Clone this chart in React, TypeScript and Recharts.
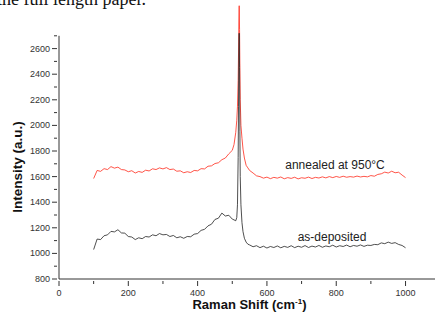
import { LineChart, Line, XAxis, YAxis, ReferenceLine } from "recharts";

const ramanShift = [
  100, 110, 120, 130, 140, 150, 160, 170, 180, 190, 200, 210, 220, 230, 240, 250, 260, 270, 280, 290,
  300, 310, 320, 330, 340, 350, 360, 370, 380, 390, 400, 410, 420, 430, 440, 450, 460, 470, 480, 490,
  500, 505, 510, 513, 515, 517, 518, 519, 520, 521, 522, 523, 525, 528, 531, 535, 540, 545, 550,
  560, 570, 580, 590, 600, 610, 620, 630, 640, 650, 660, 670, 680, 690, 700, 710, 720, 730, 740, 750,
  760, 770, 780, 790, 800, 810, 820, 830, 840, 850, 860, 870, 880, 890, 900, 910, 920, 930, 940, 950,
  960, 970, 980, 990, 1000,
];

const annealed = [
  1585, 1648, 1641, 1662, 1655, 1678, 1666, 1674, 1655, 1652, 1638, 1646, 1628, 1640, 1633, 1650, 1644, 1661, 1655, 1668,
  1660, 1670, 1655, 1659, 1642, 1645, 1630, 1638, 1632, 1648, 1645, 1662, 1660, 1681, 1684, 1702, 1708, 1732, 1745, 1778,
  1805, 1850, 1945, 2040, 2150, 2350, 2550, 2800, 2935, 2750, 2450, 2200, 2000, 1900, 1815, 1745, 1688, 1668, 1648,
  1628, 1606, 1600, 1588, 1596, 1584, 1594, 1588, 1597, 1583, 1592, 1586, 1595, 1582, 1591, 1587, 1596, 1585, 1594, 1589,
  1598, 1590, 1600, 1592, 1601, 1594, 1603, 1595, 1600, 1596, 1604, 1597, 1602, 1598, 1608, 1603, 1617, 1622, 1635, 1628,
  1642, 1630, 1634, 1612, 1592,
];

const asDeposited = [
  1030, 1112, 1108, 1138, 1145, 1172, 1168, 1185, 1160, 1158, 1132, 1128, 1108, 1122, 1115, 1132, 1128, 1145, 1138, 1155,
  1145, 1148, 1132, 1140, 1122, 1130, 1118, 1132, 1130, 1150, 1155, 1180, 1188, 1215, 1228, 1265, 1275, 1315, 1292, 1298,
  1268, 1262, 1255, 1280, 1380, 1750, 2150, 2550, 2720, 2450, 1950, 1600, 1380, 1240, 1170, 1118, 1088, 1072, 1066,
  1052, 1060, 1045, 1056, 1042, 1054, 1046, 1058, 1044, 1055, 1047, 1060, 1045, 1056, 1048, 1061, 1046, 1057, 1050, 1062,
  1048, 1058, 1052, 1064, 1050, 1060, 1054, 1065, 1052, 1062, 1056, 1066, 1055, 1064, 1062, 1070, 1068, 1082, 1076, 1088,
  1078, 1084, 1070, 1062, 1044,
];

const xTicks = [0, 100, 200, 300, 400, 500, 600, 700, 800, 900, 1000];
const yTicks = [800, 900, 1000, 1100, 1200, 1300, 1400, 1500, 1600, 1700, 1800, 1900, 2000, 2100, 2200, 2300, 2400, 2500, 2600, 2700];

const data = ramanShift.map((x, i) => ({ x, annealed: annealed[i], asDeposited: asDeposited[i] }));

const font = "'Liberation Sans', Arial, sans-serif";

const XTick = (props: any) => {
  const { x, y, payload } = props;
  const major = payload.value % 200 === 0;
  return (
    <g>
      <line x1={x} x2={x} y1={y} y2={y + (major ? 5 : 3)} stroke="#333" />
      {major && (
        <text x={x} y={y + 15} textAnchor="middle" fontSize={9} fill="#333" fontFamily={font}>
          {payload.value}
        </text>
      )}
    </g>
  );
};

const YTick = (props: any) => {
  const { x, y, payload } = props;
  const major = payload.value % 200 === 0;
  return (
    <g>
      <line x1={x - (major ? 5 : 3)} x2={x} y1={y} y2={y} stroke="#333" />
      {major && (
        <text x={x - 7} y={y + 3} textAnchor="end" fontSize={9} fill="#333" fontFamily={font}>
          {payload.value}
        </text>
      )}
    </g>
  );
};

export default function App() {
  return (
    <div style={{ position: "relative", width: 435, height: 321, overflow: "hidden" }}>
      <style>{`body{margin:0}`}</style>
      <div
        style={{
          position: "absolute",
          top: -10.5,
          left: -3,
          fontFamily: "'Liberation Serif', serif",
          fontSize: 18,
          lineHeight: "18px",
          whiteSpace: "nowrap",
          color: "#111",
        }}
      >
        the full length paper.
      </div>
      <LineChart width={435} height={321} data={data} margin={{ top: 3.8, right: 0, bottom: 0, left: 0 }}>
        <XAxis
          dataKey="x"
          type="number"
          domain={[0, 1085]}
          ticks={xTicks}
          interval={0}
          height={42}
          tickSize={0}
          tickLine={false}
          tick={XTick}
          axisLine={{ stroke: "#333" }}
        />
        <YAxis
          type="number"
          domain={[800, 2950]}
          ticks={yTicks}
          interval={0}
          width={59}
          tickSize={0}
          tickLine={false}
          axisLine={false}
          tick={YTick}
        />
        <ReferenceLine segment={[{ x: 0, y: 800 }, { x: 0, y: 2700 }]} stroke="#333" />
        <Line dataKey="annealed" stroke="#ff2a1a" strokeWidth={0.8} dot={false} isAnimationActive={false} />
        <Line dataKey="asDeposited" stroke="#222" strokeWidth={0.8} dot={false} isAnimationActive={false} />
        <text x={335} y={169} textAnchor="middle" fontSize={12} fill="#222" fontFamily={font}>
          annealed at 950°C
        </text>
        <text x={332} y={241} textAnchor="middle" fontSize={12} fill="#222" fontFamily={font}>
          as-deposited
        </text>
        <text
          x={22}
          y={167}
          transform="rotate(-90 22 167)"
          textAnchor="middle"
          fontSize={13.5}
          fontWeight="bold"
          fill="#111"
          fontFamily={font}
        >
          Intensity (a.u.)
        </text>
        <text x={249.5} y={309} textAnchor="middle" fontSize={13} fontWeight="bold" fill="#111" fontFamily={font}>
          Raman Shift (cm
          <tspan fontSize={8} dy={-5}>-1</tspan>
          <tspan dy={5}>)</tspan>
        </text>
      </LineChart>
    </div>
  );
}
